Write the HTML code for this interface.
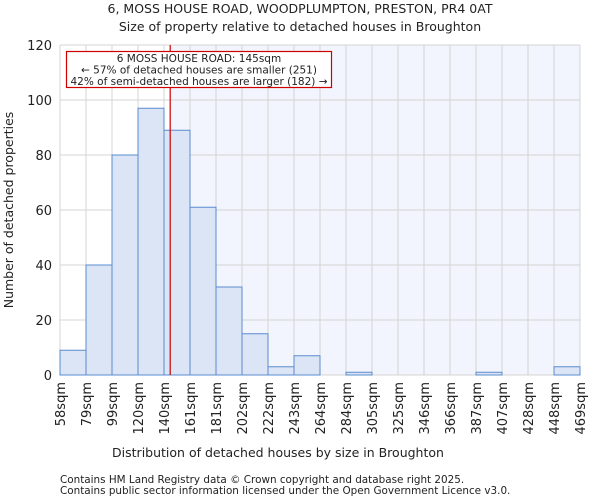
<!DOCTYPE html>
<html><head><meta charset="utf-8"><style>
body{margin:0;background:#fff;font-family:"DejaVu Sans","Liberation Sans",sans-serif}
svg text{font-family:"DejaVu Sans","Liberation Sans",sans-serif;fill:#222}
</style></head><body>
<svg id="chart" width="600" height="500">
<text x="300" y="13" text-anchor="middle" font-size="12.5">6, MOSS HOUSE ROAD, WOODPLUMPTON, PRESTON, PR4 0AT</text>
<text x="300" y="31" text-anchor="middle" font-size="12.5">Size of property relative to detached houses in Broughton</text>
<g id="plot"></g>
<text x="278" y="457" text-anchor="middle" font-size="12.5">Distribution of detached houses by size in Broughton</text>
<text transform="translate(13,210) rotate(-90)" text-anchor="middle" font-size="12.5">Number of detached properties</text>
<text x="60" y="483" font-size="10.4" fill="#444">Contains HM Land Registry data © Crown copyright and database right 2025.</text>
<text x="60" y="494" font-size="10.4" fill="#444">Contains public sector information licensed under the Open Government Licence v3.0.</text>
</svg>
<script>
const binLabels=["58sqm","79sqm","99sqm","120sqm","140sqm","161sqm","181sqm","202sqm","222sqm","243sqm","264sqm","284sqm","305sqm","325sqm","346sqm","366sqm","387sqm","407sqm","428sqm","448sqm","469sqm"];
const binEdges=[58,79,99,120,140,161,181,202,222,243,264,284,305,325,346,366,387,407,428,448,469];
const counts=[9,40,80,97,89,61,32,15,3,7,0,1,0,0,0,0,1,0,0,3];
const yTicks=[0,20,40,60,80,100,120];
const propertySize=145;
const NS="http://www.w3.org/2000/svg";
const L=60,R=580,T=45,B=375,yMax=120;
const nb=counts.length,bw=(R-L)/nb;
const y=v=>B-(v/yMax)*(B-T);
const xi=i=>L+i*bw;
function xv(v){for(let i=0;i<binEdges.length-1;i++){if(v<=binEdges[i+1])return xi(i)+(v-binEdges[i])/(binEdges[i+1]-binEdges[i])*bw;}return R;}
const g=document.getElementById('plot');
function mk(t,a){const e=document.createElementNS(NS,t);for(const k in a)e.setAttribute(k,a[k]);g.appendChild(e);return e;}
const px=xv(propertySize);
let e=mk('rect',{x:px,y:T,width:R-px,height:B-T,fill:'#f2f5fd'});


for(let i=0;i<=nb;i++){e=mk('line',{x1:xi(i),x2:xi(i),y1:T,y2:B,stroke:'#d4d4d4','stroke-width':1});

}
yTicks.forEach(t=>{e=mk('line',{x1:L,x2:R,y1:y(t),y2:y(t),stroke:'#d4d4d4','stroke-width':1});


e=mk('text',{x:L-8,y:y(t)+5,'text-anchor':'end','font-size':13});e.textContent=t;

});
counts.forEach((c,i)=>{if(c<=0)return;e=mk('rect',{x:xi(i),y:y(c),width:bw,height:B-y(c),fill:'#dbe5f5',stroke:'#5a8ccf','stroke-width':1});

});
binLabels.forEach((l,i)=>{e=mk('text',{transform:`translate(${xi(i)+5},382) rotate(-90)`,'text-anchor':'end','font-size':13});e.textContent=l;

});
e=mk('line',{x1:px,x2:px,y1:T,y2:B,stroke:'#cc0000','stroke-width':1.2});


e=mk('rect',{x:66.5,y:51.5,width:265,height:36,fill:'#fff',stroke:'#d00000','stroke-width':1.2});


["6 MOSS HOUSE ROAD: 145sqm","← 57% of detached houses are smaller (251)","42% of semi-detached houses are larger (182) →"].forEach((s,i)=>{e=mk('text',{x:199,y:62+i*11.5,'text-anchor':'middle','font-size':10.5});e.textContent=s;

});
</script>
</body></html>
